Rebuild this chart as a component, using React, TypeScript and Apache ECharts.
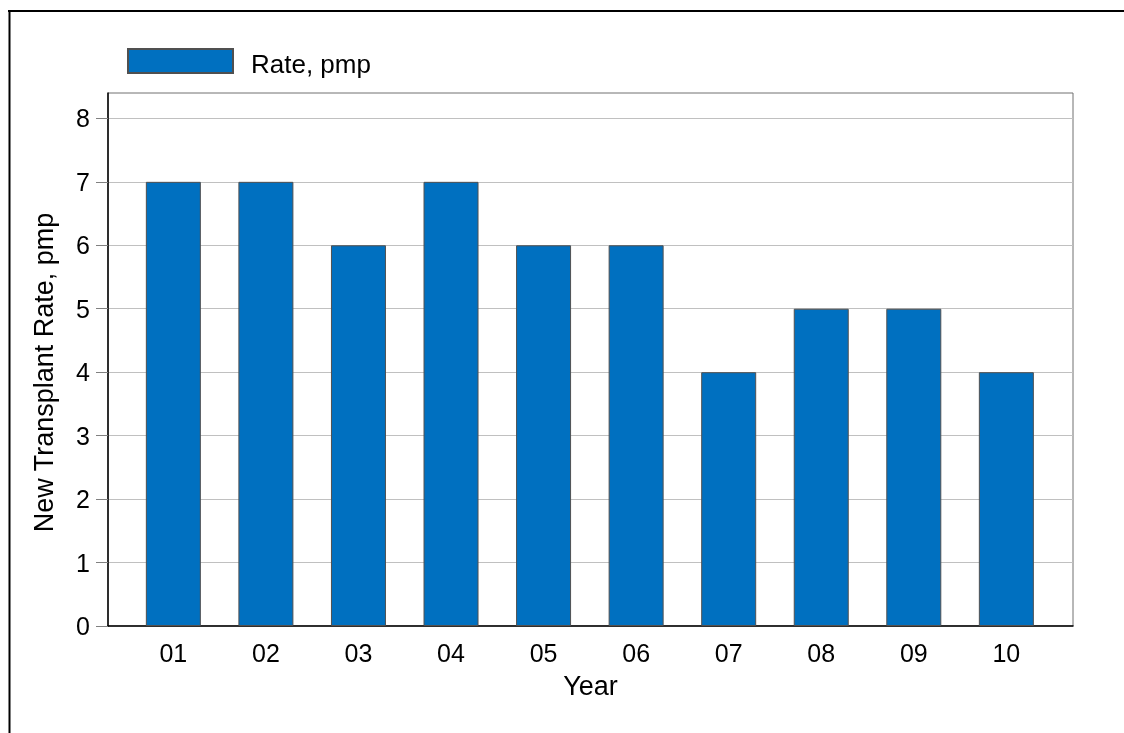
import React, { useEffect, useRef } from "react";
import * as echarts from "echarts";

const categories = ["01", "02", "03", "04", "05", "06", "07", "08", "09", "10"];
const rateValues = [7, 7, 6, 7, 6, 6, 4, 5, 5, 4];
const yTicks = [0, 1, 2, 3, 4, 5, 6, 7, 8];
const seriesName = "Rate, pmp";
const xTitle = "Year";
const yTitle = "New Transplant Rate, pmp";

export default function App() {
  const ref = useRef<HTMLDivElement>(null);
  useEffect(() => {
    if (!ref.current) return;
    const chart = echarts.init(ref.current, undefined, { renderer: "svg" });
    const positions = categories.map((_, i) => i + 1);
    const font = "Liberation Sans, Arial, sans-serif";
    chart.setOption({
      animation: false,
      textStyle: { fontFamily: font },
      legend: {
        left: 122,
        top: 43,
        itemWidth: 105,
        itemHeight: 24,
        icon: "rect",
        formatter: (name: string) => "{t|" + name + "}",
        textStyle: {
          fontSize: 26,
          color: "#000",
          fontFamily: font,
          rich: {
            t: { fontSize: 26, color: "#000", fontFamily: font, padding: [6, 0, 0, 13] },
          },
        },
        data: [seriesName],
      },
      grid: {
        left: 108,
        top: 93,
        right: 51,
        bottom: 107,
        show: true,
        borderColor: "#707070",
        borderWidth: 1,
        containLabel: false,
      },
      xAxis: {
        type: "value",
        min: 0.294,
        max: 10.72,
        name: xTitle,
        nameLocation: "middle",
        nameGap: 46,
        nameTextStyle: { fontSize: 27, color: "#000", fontFamily: font },
        axisLine: { show: true, lineStyle: { color: "#000", width: 1.5 } },
        axisTick: { show: false },
        splitLine: { show: false },
        axisLabel: {
          customValues: positions,
          formatter: (v: number) => categories[Math.round(v) - 1] ?? "",
          fontSize: 25,
          color: "#000",
          margin: 14,
          fontFamily: font,
        },
      },
      yAxis: {
        type: "value",
        min: 0,
        max: 8.4,
        name: yTitle,
        nameLocation: "middle",
        nameGap: 51,
        nameTextStyle: { fontSize: 27, color: "#000", fontFamily: font, padding: [0, 26, 0, 0] },
        axisLine: { show: true, lineStyle: { color: "#000", width: 1.5 } },
        axisTick: {
          show: true,
          customValues: yTicks,
          length: 12,
          lineStyle: { color: "#808080" },
        },
        splitLine: { show: true, lineStyle: { color: "#c0c0c0", width: 1 } },
        axisLabel: {
          customValues: yTicks,
          fontSize: 25,
          color: "#000",
          margin: 18,
          padding: [7, 0, 0, 0],
          fontFamily: font,
        },
      },
      graphic: [
        { type: "line", shape: { x1: 8, y1: 11, x2: 1124, y2: 11 }, style: { stroke: "#000", lineWidth: 2 } },
        { type: "line", shape: { x1: 9.5, y1: 10, x2: 9.5, y2: 733 }, style: { stroke: "#000", lineWidth: 2 } },
      ],
      series: [
        {
          name: seriesName,
          type: "bar",
          barWidth: 55,
          data: rateValues.map((v, i) => [positions[i], v]),
          itemStyle: { color: "#0070C0", borderColor: "#505050", borderWidth: 1 },
        },
      ],
    });
    return () => chart.dispose();
  }, []);
  return <div ref={ref} style={{ position: "fixed", left: 0, top: 0, width: 1124, height: 733 }} />;
}
